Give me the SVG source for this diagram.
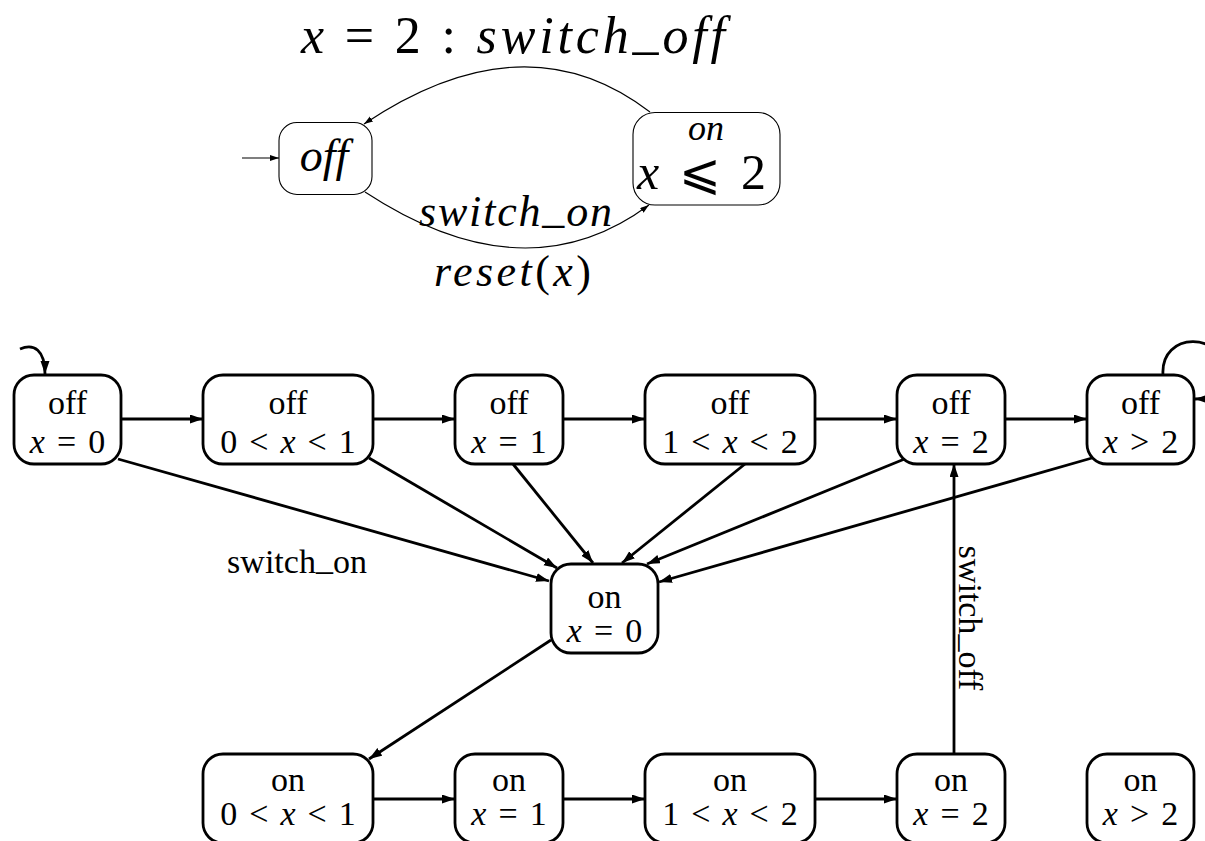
<svg xmlns="http://www.w3.org/2000/svg" width="1205" height="841" viewBox="0 0 1205 841">
  <style>
    .bg { fill: #ffffff; }
    .st rect { fill: #ffffff; stroke: #000000; stroke-width: 2.8; }
    .st text, .lbl { font-family: "Liberation Serif", "Times New Roman", serif; font-size: 34px; fill: #000000; text-anchor: middle; word-spacing: 3.5px; }
    .it { font-style: italic; }
    .edge { fill: none; stroke: #000000; stroke-width: 2.8; marker-end: url(#head); }
    .tst rect { fill: #ffffff; stroke: #000000; stroke-width: 1.1; }
    .tedge { fill: none; stroke: #000000; stroke-width: 1.1; marker-end: url(#thead); }
    .math { font-family: "Liberation Serif", "DejaVu Serif", serif; fill: #000000; }
  </style>
  <defs>
    <marker id="head" markerUnits="userSpaceOnUse" markerWidth="14" markerHeight="10" refX="13" refY="4.5" orient="auto">
      <path d="M0,0 L13,4.5 L0,9 z" fill="#000000"/>
    </marker>
    <marker id="thead" markerUnits="userSpaceOnUse" markerWidth="10" markerHeight="8" refX="9" refY="3" orient="auto">
      <path d="M0,0 L9,3 L0,6 z" fill="#000000"/>
    </marker>
  </defs>
  <rect class="bg" x="0" y="0" width="1205" height="841"/>

  <!-- timed automaton of the lamp -->
  <g id="automaton">
    <text class="math" x="301" y="53" font-size="52" textLength="424" lengthAdjust="spacing"><tspan class="it">x</tspan> = 2 : <tspan class="it">switch</tspan><tspan dy="-5">_</tspan><tspan class="it" dy="5">off</tspan></text>
    <g id="a-off" class="tst">
      <rect x="279" y="122.5" width="93" height="72" rx="18"/>
      <text class="math it" x="324" y="171" font-size="46" text-anchor="middle">off</text>
    </g>
    <g id="a-on" class="tst">
      <rect x="633" y="112.5" width="147" height="92.5" rx="22"/>
      <text class="math it" x="706" y="140" font-size="36" text-anchor="middle">on</text>
      <text class="math" x="637" y="189" font-size="50" textLength="129" lengthAdjust="spacing"><tspan class="it">x</tspan> ⩽ 2</text>
    </g>
    <g id="a-edges">
      <path class="tedge" d="M242,158 L279,158"/>
      <path class="tedge" d="M650,112 Q525,16 364,124"/>
      <path class="tedge" d="M365,192 Q525,297 649,205"/>
    </g>
    <text class="math it" x="419" y="226" font-size="44" textLength="193" lengthAdjust="spacing">switch<tspan font-style="normal" dy="-4">_</tspan><tspan dy="4">on</tspan></text>
    <text class="math" x="434" y="286" font-size="44" textLength="157" lengthAdjust="spacing"><tspan class="it">reset</tspan>(<tspan class="it">x</tspan>)</text>
  </g>

  <!-- region graph: connectors -->
  <g id="connectors">
    <path class="edge" d="M20,349 C34,343 45,350 45,374"/>
    <path class="edge" d="M1163,375 C1160,330 1225,332 1224,372 C1223,392 1212,399 1195,399"/>
    <path class="edge" d="M121,419 L203,419"/>
    <path class="edge" d="M373,419 L455,419"/>
    <path class="edge" d="M563,419 L645,419"/>
    <path class="edge" d="M815,419 L897,419"/>
    <path class="edge" d="M1005,419 L1087,419"/>
    <path class="edge" d="M118,459 L549,581"/>
    <path class="edge" d="M369,458 L557,568"/>
    <path class="edge" d="M513,464 L593,563"/>
    <path class="edge" d="M745,464 L622,563"/>
    <path class="edge" d="M907,458 L647,564"/>
    <path class="edge" d="M1092,458 L659,582"/>
    <path class="edge" d="M551,640 L369,759"/>
    <path class="edge" d="M373,799 L455,799"/>
    <path class="edge" d="M563,799 L645,799"/>
    <path class="edge" d="M815,799 L897,799"/>
    <path class="edge" d="M954,754 L954,464"/>
    <text class="lbl" x="297" y="573">switch<tspan dy="-3">_</tspan><tspan dy="3">on</tspan></text>
    <text class="lbl" transform="translate(959,618) rotate(90)">switch<tspan dy="-3">_</tspan><tspan dy="3">off</tspan></text>
  </g>

  <!-- region graph: states -->
  <g id="off-0" class="st">
    <rect x="14" y="375" width="107" height="89" rx="20"/>
    <text x="67.5" y="414">off</text>
    <text x="67.5" y="453"><tspan class="it">x</tspan> = 0</text>
  </g>
  <g id="off-01" class="st">
    <rect x="203" y="375" width="170" height="89" rx="20"/>
    <text x="288" y="414">off</text>
    <text x="288" y="453">0 &lt; <tspan class="it">x</tspan> &lt; 1</text>
  </g>
  <g id="off-1" class="st">
    <rect x="455" y="375" width="108" height="89" rx="20"/>
    <text x="509" y="414">off</text>
    <text x="509" y="453"><tspan class="it">x</tspan> = 1</text>
  </g>
  <g id="off-12" class="st">
    <rect x="645" y="375" width="170" height="89" rx="20"/>
    <text x="730" y="414">off</text>
    <text x="730" y="453">1 &lt; <tspan class="it">x</tspan> &lt; 2</text>
  </g>
  <g id="off-2" class="st">
    <rect x="897" y="375" width="108" height="89" rx="20"/>
    <text x="951" y="414">off</text>
    <text x="951" y="453"><tspan class="it">x</tspan> = 2</text>
  </g>
  <g id="off-gt2" class="st">
    <rect x="1087" y="375" width="107" height="89" rx="20"/>
    <text x="1140.5" y="414">off</text>
    <text x="1140.5" y="453"><tspan class="it">x</tspan> &gt; 2</text>
  </g>
  <g id="on-0" class="st">
    <rect x="551" y="564" width="107" height="89" rx="20"/>
    <text x="604.5" y="608">on</text>
    <text x="604.5" y="642"><tspan class="it">x</tspan> = 0</text>
  </g>
  <g id="on-01" class="st">
    <rect x="203" y="754" width="170" height="89" rx="20"/>
    <text x="288" y="791">on</text>
    <text x="288" y="825">0 &lt; <tspan class="it">x</tspan> &lt; 1</text>
  </g>
  <g id="on-1" class="st">
    <rect x="455" y="754" width="108" height="89" rx="20"/>
    <text x="509" y="791">on</text>
    <text x="509" y="825"><tspan class="it">x</tspan> = 1</text>
  </g>
  <g id="on-12" class="st">
    <rect x="645" y="754" width="170" height="89" rx="20"/>
    <text x="730" y="791">on</text>
    <text x="730" y="825">1 &lt; <tspan class="it">x</tspan> &lt; 2</text>
  </g>
  <g id="on-2" class="st">
    <rect x="897" y="754" width="108" height="89" rx="20"/>
    <text x="951" y="791">on</text>
    <text x="951" y="825"><tspan class="it">x</tspan> = 2</text>
  </g>
  <g id="on-gt2" class="st">
    <rect x="1087" y="754" width="107" height="89" rx="20"/>
    <text x="1140.5" y="791">on</text>
    <text x="1140.5" y="825"><tspan class="it">x</tspan> &gt; 2</text>
  </g>
</svg>
